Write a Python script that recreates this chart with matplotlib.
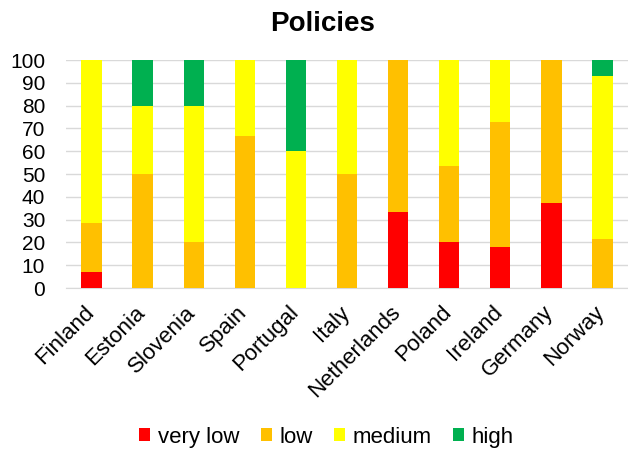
import numpy as np
import matplotlib.pyplot as plt
import matplotlib.transforms as mtransforms

plt.rcParams['font.family'] = ['Liberation Sans', 'DejaVu Sans']

countries = ['Finland', 'Estonia', 'Slovenia', 'Spain', 'Portugal', 'Italy',
             'Netherlands', 'Poland', 'Ireland', 'Germany', 'Norway']
very_low = [7.1, 0, 0, 0, 0, 0, 33.3, 20, 18.2, 37.5, 0]
low = [21.4, 50, 20, 66.7, 0, 50, 66.7, 33.3, 54.5, 62.5, 21.4]
medium = [71.4, 30, 60, 33.3, 60, 50, 0, 46.7, 27.3, 0, 71.4]
high = [0, 20, 20, 0, 40, 0, 0, 0, 0, 0, 7.1]

series = [('very low', very_low, '#ff0000'),
          ('low', low, '#ffc000'),
          ('medium', medium, '#ffff00'),
          ('high', high, '#00b050')]

fig = plt.figure(figsize=(6.28, 4.53), dpi=100)
ax = fig.add_axes([66 / 628, 1 - 288 / 453, 562 / 628, 228 / 453])

x = np.arange(len(countries))
bottom = np.zeros(len(countries))
for name, vals, color in series:
    vals = np.array(vals)
    ax.bar(x, vals, 0.4, bottom=bottom, color=color, label=name, zorder=3)
    bottom += vals

ax.set_xlim(-0.5, 10.5)
ax.set_ylim(0, 100)
ax.set_yticks(range(0, 101, 10))
ax.yaxis.grid(True, color='#d9d9d9', linewidth=1, zorder=0)
for s in ['top', 'right', 'left']:
    ax.spines[s].set_visible(False)
ax.spines['bottom'].set_color('#d9d9d9')
ax.tick_params(length=0, labelsize=15)
ax.tick_params(axis='y', pad=15)
ax.tick_params(axis='x', pad=10)
ax.set_xticks(x)
ax.set_xticklabels(countries, rotation=45, ha='right', rotation_mode='anchor', fontsize=16)
# nudge the slanted country names left so they end under the bars
shift = mtransforms.ScaledTranslation(-6 / 72, 0, fig.dpi_scale_trans)
for lbl in ax.get_xticklabels():
    lbl.set_transform(lbl.get_transform() + shift)

fig.text(0.513, 0.975, 'Policies', fontsize=20, fontweight='bold', ha='center', va='top')
fig.legend(loc='center', bbox_to_anchor=(0.52, 0.035), ncol=4, frameon=False,
           fontsize=16, handlelength=0.5, handleheight=0.5, handletextpad=0.35,
           columnspacing=0.95, borderpad=0)

fig.savefig('out.png', dpi=100)
